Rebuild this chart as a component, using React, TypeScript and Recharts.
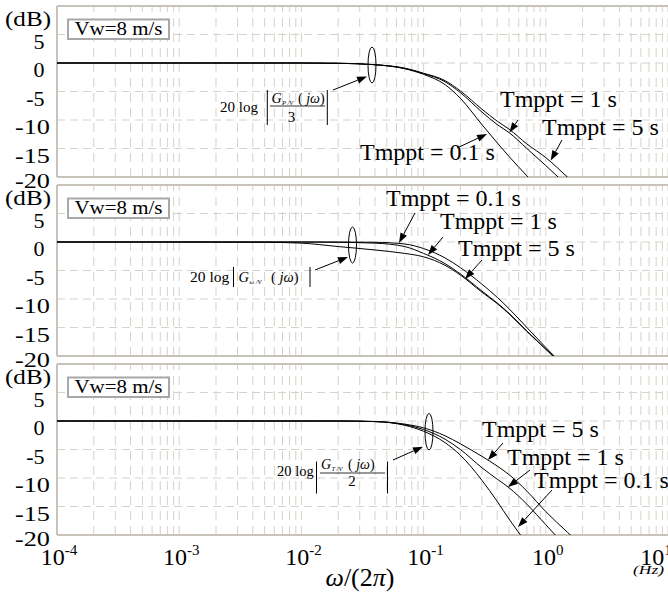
import React from 'react';
import { LineChart, Line, XAxis, YAxis, ReferenceLine } from 'recharts';

// ---------------- data ----------------
const FREQ = [0.0001, 0.001, 0.005, 0.01, 0.02, 0.04, 0.07, 0.1, 0.15, 0.2, 0.3, 0.4, 0.5, 0.7, 1.0, 1.5, 2.0];

// Panel 1: 20 log |G_P/V(jw)/3|
const P1_T01 = [0, 0, 0, 0, -0.05, -0.3, -1.0, -2.0, -3.8, -6.2, -10.8, -14.0, -16.4, -19.8, -23.5, null, null];
const P1_T1 = [0, 0, 0, 0, -0.05, -0.3, -0.95, -1.85, -3.3, -5.2, -8.6, -10.8, -12.2, -15.0, -18.0, -21.5, null];
const P1_T5 = [0, 0, 0, 0, -0.05, -0.3, -0.9, -1.8, -3.1, -4.9, -8.1, -10.2, -11.6, -14.2, -16.6, -20.0, -22.5];

// Panel 2: 20 log |G_w/V(jw)|
const P2_T01 = [0, 0, 0, 0, 0, -0.05, -0.35, -1.15, -2.8, -4.5, -7.4, -9.7, -11.7, -15.0, -18.5, -22.4, null];
const P2_T1 = [0, 0, 0, 0, -0.05, -0.2, -0.8, -2.0, -3.8, -5.6, -8.6, -10.7, -12.5, -15.6, -18.8, -22.4, null];
const P2_T5 = [0, 0, -0.05, -0.2, -0.8, -1.4, -2.0, -2.6, -4.1, -5.8, -8.8, -10.8, -12.6, -15.7, -18.8, -22.4, null];

// Panel 3: 20 log |G_T/V(jw)/2|
const P3_T5 = [0, 0, 0, 0, 0, -0.1, -0.55, -1.2, -2.6, -4.0, -6.2, -7.9, -9.4, -12.3, -15.9, -19.5, -22.0];
const P3_T1 = [0, 0, 0, 0, 0, -0.1, -0.65, -1.5, -3.2, -5.0, -8.2, -10.2, -11.7, -14.6, -18.2, -22.3, null];
const P3_T01 = [0, 0, 0, 0, 0, -0.1, -0.75, -1.8, -3.8, -6.0, -10.4, -14.1, -17.2, -21.5, null, null, null];

const Y_TICKS = [-20, -15, -10, -5, 0, 5, 10];
const Y_GRID = [5, 0, -5, -10, -15];
const X_TICKS = [0.0001, 0.001, 0.01, 0.1, 1, 10];
const X_EXP = ['-4', '-3', '-2', '-1', '0', '1'];
const MINOR_MULT = [2, 3, 4, 5, 6, 7, 8, 9];
const BOX_TEXT = 'Vw=8 m/s';
const UNIT_LABEL = '(dB)';

// ---------------- style ----------------
const FONT = "'Liberation Serif', 'Times New Roman', serif";
const GRID = '#d6d2ca';
const BORDER = '#c8c3ba';
const W = 668;
const PLOT_H = 171;
const M_TOP = 4;
const M_BOT = 22;

const VGRID: number[] = [];
X_TICKS.forEach((d, i) => {
  VGRID.push(d);
  if (i < X_TICKS.length - 1) MINOR_MULT.forEach((m) => VGRID.push(d * m));
});

function rows(a: (number | null)[], b: (number | null)[], c: (number | null)[]) {
  return FREQ.map((f, i) => ({ f, a: a[i], b: b[i], c: c[i] }));
}

const YTick = (props: any) => {
  const { y, payload } = props;
  const v = payload.value;
  if (v === 10) {
    return (
      <text x={5} y={y + 20} fontFamily={FONT} fontSize={20} fill="#000" textLength={46} lengthAdjust="spacingAndGlyphs">
        {UNIT_LABEL}
      </text>
    );
  }
  if (v <= -10) {
    return (
      <text x={15} y={y + (v === -20 ? 11 : 14)} fontFamily={FONT} fontSize={22} fill="#000" textLength={35} lengthAdjust="spacingAndGlyphs">
        {v}
      </text>
    );
  }
  return (
    <text x={44.5} y={y + 14} textAnchor="end" fontFamily={FONT} fontSize={22} fill="#000">
      {v}
    </text>
  );
};

const XTick = (props: any) => {
  const { x, payload } = props;
  const i = X_TICKS.indexOf(payload.value);
  const shift = i === X_TICKS.length - 1 ? -12 : 2;
  return (
    <text x={x + shift} y={M_TOP + PLOT_H + 30} textAnchor="middle" fontFamily={FONT} fill="#000">
      <tspan fontSize={24}>10</tspan>
      <tspan fontSize={15} dy={-10}>{X_EXP[i]}</tspan>
    </text>
  );
};

function Panel({ data, top, showX }: { data: any[]; top: number; showX: boolean }) {
  const h = M_TOP + PLOT_H + (showX ? 60 : M_BOT);
  return (
    <div style={{ position: 'absolute', left: 0, top: top - M_TOP, width: W, height: h }}>
      <LineChart width={W} height={h} data={data} margin={{ top: M_TOP, right: 0, bottom: showX ? 0 : M_BOT, left: 0 }}>
        <XAxis
          dataKey="f"
          type="number"
          scale="log"
          domain={[0.0001, 10]}
          ticks={X_TICKS}
          interval={0}
          allowDataOverflow
          hide={!showX}
          height={showX ? 60 : 0}
          axisLine={false}
          tickLine={false}
          tick={<XTick />}
        />
        <YAxis
          type="number"
          domain={[-20, 10]}
          ticks={Y_TICKS}
          interval={0}
          allowDataOverflow
          width={57}
          axisLine={false}
          tickLine={false}
          tick={<YTick />}
        />
        {Y_GRID.map((v) => (
          <ReferenceLine key={'h' + v} y={v} stroke={GRID} strokeWidth={1} strokeDasharray="8 5" />
        ))}
        {VGRID.map((v) => (
          <ReferenceLine key={'v' + v} x={v} stroke={GRID} strokeWidth={1} strokeDasharray="9 6" />
        ))}
        <ReferenceLine y={10} stroke={BORDER} strokeWidth={2} />
        <ReferenceLine y={-20} stroke={BORDER} strokeWidth={2} />
        <ReferenceLine x={0.0001} stroke={BORDER} strokeWidth={2} />
        <Line dataKey="a" type="monotone" stroke="#000" strokeWidth={1} dot={false} isAnimationActive={false} />
        <Line dataKey="b" type="monotone" stroke="#000" strokeWidth={1} dot={false} isAnimationActive={false} />
        <Line dataKey="c" type="monotone" stroke="#000" strokeWidth={1} dot={false} isAnimationActive={false} />
      </LineChart>
    </div>
  );
}

function Arrow({ x1, y1, x2, y2 }: { x1: number; y1: number; x2: number; y2: number }) {
  const dx = x2 - x1;
  const dy = y2 - y1;
  const len = Math.sqrt(dx * dx + dy * dy);
  const ux = dx / len;
  const uy = dy / len;
  const hl = 10;
  const hw = 3.6;
  const bx = x2 - ux * hl;
  const by = y2 - uy * hl;
  const pts = `${x2},${y2} ${bx - uy * hw},${by + ux * hw} ${bx + uy * hw},${by - ux * hw}`;
  return (
    <g>
      <line x1={x1} y1={y1} x2={bx} y2={by} stroke="#000" strokeWidth={1} />
      <polygon points={pts} fill="#000" />
    </g>
  );
}

function Label({ x, y, text }: { x: number; y: number; text: string }) {
  return (
    <text x={x} y={y} fontFamily={FONT} fontSize={24} fill="#000">
      {text}
    </text>
  );
}

function Box({ y }: { y: number }) {
  return (
    <g>
      <rect x={68} y={y} width={101} height={19.5} fill="#fff" stroke="#a8a8a8" strokeWidth={2} />
      <text x={74.5} y={y + 15.5} fontFamily={FONT} fontSize={18} fill="#000" textLength={88} lengthAdjust="spacingAndGlyphs">
        {BOX_TEXT}
      </text>
    </g>
  );
}

function Overlay() {
  return (
    <svg width={W} height={598} style={{ position: 'absolute', left: 0, top: 0, pointerEvents: 'none' }}>
      <Box y={19.5} />
      <Box y={198.5} />
      <Box y={377.5} />

      {/* panel 1 */}
      <ellipse cx={372} cy={65} rx={4} ry={18} fill="none" stroke="#000" strokeWidth={1} />
      <Arrow x1={333} y1={90} x2={367} y2={76.5} />
      <text x={220} y={111.5} fontFamily={FONT} fontSize={15} fill="#000">20 log</text>
      <line x1={267.3} y1={90} x2={267.3} y2={125} stroke="#000" strokeWidth={1} />
      <line x1={327.3} y1={90} x2={327.3} y2={125} stroke="#000" strokeWidth={1} />
      <text x={271.5} y={103} fontFamily={FONT} fontSize={14} fontStyle="italic" fill="#000">G</text>
      <text x={282} y={105} fontFamily={FONT} fontSize={6.5} fontStyle="italic" fill="#000">P /V</text>
      <text x={298} y={103} fontFamily={FONT} fontSize={14} fill="#000">( <tspan fontStyle="italic">jω</tspan>)</text>
      <line x1={270} y1={106} x2={325} y2={106} stroke="#000" strokeWidth={0.8} />
      <text x={291.5} y={122.3} textAnchor="middle" fontFamily={FONT} fontSize={15} fill="#000">3</text>
      <Label x={500} y={107} text="Tmppt = 1 s" />
      <Arrow x1={518} y1={120} x2={509.5} y2={132.5} />
      <Label x={542} y={135} text="Tmppt = 5 s" />
      <Arrow x1={562} y1={140} x2={550.7} y2={160.5} />
      <Label x={360} y={160} text="Tmppt = 0.1 s" />
      <Arrow x1={457} y1={148} x2={487} y2={134} />

      {/* panel 2 */}
      <ellipse cx={352.5} cy={245} rx={4} ry={18} fill="none" stroke="#000" strokeWidth={1} />
      <Arrow x1={315} y1={270} x2={348} y2={257} />
      <text x={190} y={281.5} fontFamily={FONT} fontSize={15.5} fill="#000">20 log</text>
      <line x1={233.5} y1={267} x2={233.5} y2={287} stroke="#000" strokeWidth={1} />
      <line x1={310} y1={267} x2={310} y2={287} stroke="#000" strokeWidth={1} />
      <text x={238.5} y={281.5} fontFamily={FONT} fontSize={14.5} fontStyle="italic" fill="#000">G</text>
      <text x={249.5} y={284} fontFamily={FONT} fontSize={6.5} fontStyle="italic" fill="#000">ω /V</text>
      <text x={271} y={281.5} fontFamily={FONT} fontSize={14.5} fill="#000">( <tspan fontStyle="italic">jω</tspan>)</text>
      <Label x={386} y={206} text="Tmppt = 0.1 s" />
      <Arrow x1={415} y1={213} x2={399} y2={243} />
      <Label x={440} y={229} text="Tmppt = 1 s" />
      <Arrow x1={443} y1={237} x2={428} y2={255} />
      <Label x={458} y={256} text="Tmppt = 5 s" />
      <Arrow x1={482} y1={260} x2={465} y2={279} />

      {/* panel 3 */}
      <ellipse cx={429} cy={431.7} rx={4} ry={18.3} fill="none" stroke="#000" strokeWidth={1} />
      <Arrow x1={393} y1={460} x2={423} y2={446.7} />
      <text x={277} y={475.5} fontFamily={FONT} fontSize={14.5} fill="#000">20 log</text>
      <line x1={316.5} y1={461.5} x2={316.5} y2={493.5} stroke="#000" strokeWidth={1} />
      <line x1={387.5} y1={461.5} x2={387.5} y2={493.5} stroke="#000" strokeWidth={1} />
      <text x={321} y={469} fontFamily={FONT} fontSize={14} fontStyle="italic" fill="#000">G</text>
      <text x={331.5} y={471} fontFamily={FONT} fontSize={6.5} fontStyle="italic" fill="#000">T /V</text>
      <text x={348} y={469} fontFamily={FONT} fontSize={14} fill="#000">( <tspan fontStyle="italic">jω</tspan>)</text>
      <line x1={320} y1={473} x2={385} y2={473} stroke="#000" strokeWidth={0.8} />
      <text x={352} y={486} textAnchor="middle" fontFamily={FONT} fontSize={15} fill="#000">2</text>
      <Label x={482} y={437} text="Tmppt = 5 s" />
      <Arrow x1={503} y1={443} x2={488} y2={460} />
      <Label x={507} y={465} text="Tmppt = 1 s" />
      <Arrow x1={530} y1={470} x2={508} y2={487} />
      <Label x={534} y={488} text="Tmppt = 0.1 s" />
      <Arrow x1={552} y1={490} x2={518} y2={527} />

      {/* x axis title */}
      <text x={360} y={586} textAnchor="middle" fontFamily={FONT} fontSize={26} fill="#000">
        <tspan fontStyle="italic">ω</tspan>/(2<tspan fontStyle="italic">π</tspan>)
      </text>
      <text x={633} y={574} fontFamily={FONT} fontSize={12} fontStyle="italic" fill="#000" textLength={31} lengthAdjust="spacingAndGlyphs">
        (Hz)
      </text>
    </svg>
  );
}

export default function App() {
  return (
    <div style={{ position: 'absolute', left: 0, top: 0, width: W, height: 598, background: '#fff', overflow: 'hidden' }}>
      <Panel data={rows(P1_T01, P1_T1, P1_T5)} top={6} showX={false} />
      <Panel data={rows(P2_T01, P2_T1, P2_T5)} top={184.5} showX={false} />
      <Panel data={rows(P3_T5, P3_T1, P3_T01)} top={364} showX={true} />
      <Overlay />
    </div>
  );
}
